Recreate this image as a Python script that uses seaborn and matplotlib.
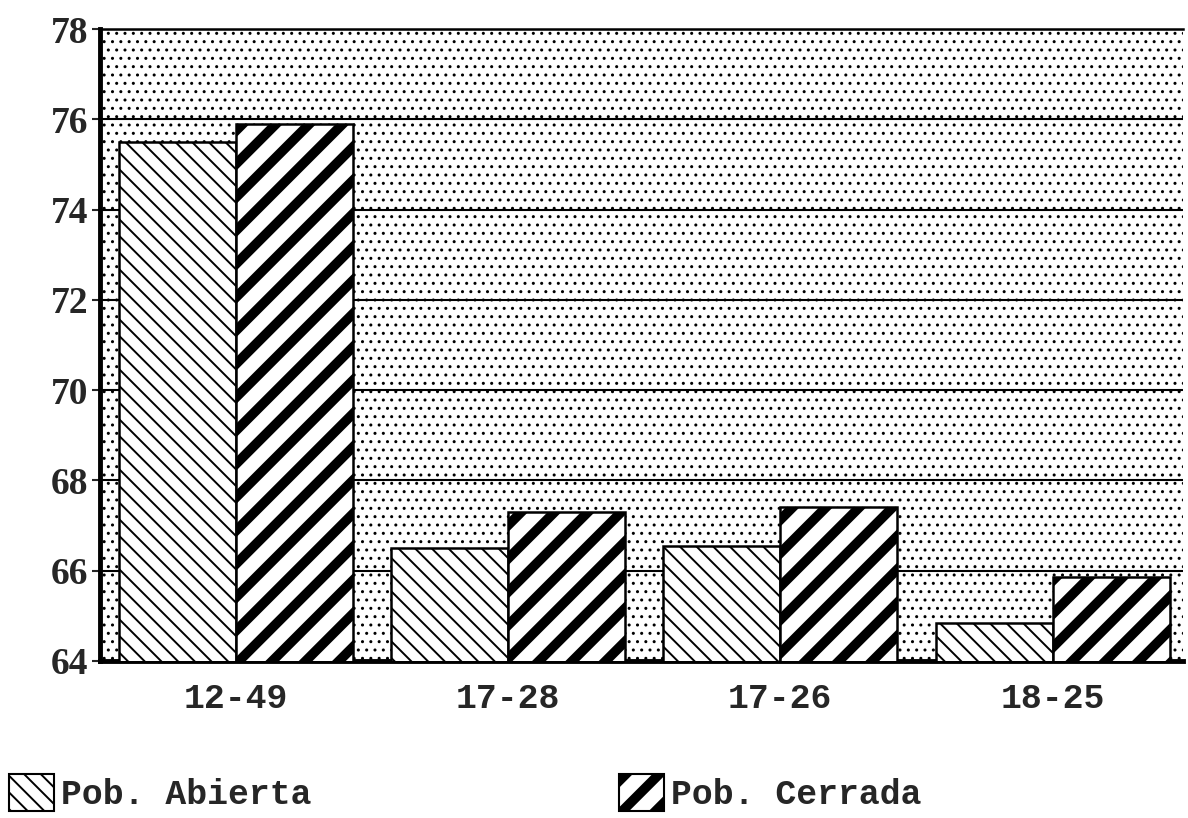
"""Bar chart: Pob. Abierta vs Pob. Cerrada by age range."""
import matplotlib
matplotlib.use("Agg")
import matplotlib.pyplot as plt
from matplotlib.patches import Patch
import seaborn as sns
import pandas as pd

# data
rangos = ["12-49", "17-28", "17-26", "18-25"]
pob_abierta = [75.5, 66.5, 66.55, 64.85]
pob_cerrada = [75.9, 67.3, 67.4, 65.85]
series = ["Pob. Abierta", "Pob. Cerrada"]
y_ticks = [64, 66, 68, 70, 72, 74, 76, 78]

df = pd.DataFrame({
    "rango": rangos * 2,
    "valor": pob_abierta + pob_cerrada,
    "serie": [series[0]] * len(rangos) + [series[1]] * len(rangos),
})

sns.set_style("white")
plt.rcParams["hatch.color"] = "black"

fig = plt.figure(figsize=(11.88, 8.18), dpi=100)
ax = fig.add_axes([0.084, 0.192, 0.912, 0.7725])

# dotted background
ax.patch.set_facecolor("white")
ax.patch.set_edgecolor("black")
ax.patch.set_linewidth(0)
ax.patch.set_hatch("..")

sns.barplot(data=df, x="rango", y="valor", hue="serie", hue_order=series,
            order=rangos, width=0.86, gap=0, ax=ax, legend=False,
            edgecolor="black", linewidth=1.8, saturation=1)

styles = [("\\\\", 1.4), ("/", 7.0)]
for cont, (hatch, hlw) in zip(ax.containers, styles):
    for bar in cont:
        bar.set_facecolor("white")
        bar.set_edgecolor("black")
        bar.set_hatch(hatch)
        if hasattr(bar, "set_hatch_linewidth"):
            bar.set_hatch_linewidth(hlw)
        bar.set_zorder(3)

ax.set_ylim(64, 78)
ax.set_xlim(-0.5, 3.48)
ax.set_yticks(y_ticks)
ax.yaxis.grid(True, color="black", linewidth=1.5)
ax.xaxis.grid(False)
ax.set_axisbelow(True)
ax.set_xlabel("")
ax.set_ylabel("")

for side in ["left", "bottom"]:
    ax.spines[side].set_linewidth(3.5)
    ax.spines[side].set_color("black")
ax.spines["top"].set_linewidth(1.8)
ax.spines["top"].set_color("black")
ax.spines["right"].set_visible(False)

ax.tick_params(axis="y", left=True, length=6, width=1.5, pad=2)
ax.tick_params(axis="x", bottom=False, pad=12)
for lab in ax.get_yticklabels():
    lab.set_fontfamily("Liberation Serif")
    lab.set_fontweight("bold")
    lab.set_fontsize(27)
for lab in ax.get_xticklabels():
    lab.set_fontfamily("Liberation Mono")
    lab.set_fontweight("bold")
    lab.set_fontsize(25)

# legend at the bottom
handles = [Patch(facecolor="white", edgecolor="black", hatch=h, linewidth=1.5)
           for h, _ in styles]
leg = fig.legend(handles, series, loc="center left", bbox_to_anchor=(0.0, 0.031),
                 ncol=2, frameon=False, handlelength=1.3, handleheight=1.25,
                 handletextpad=0.2, columnspacing=8.85, borderaxespad=0,
                 borderpad=0.25,
                 prop={"family": "Liberation Mono", "weight": "bold", "size": 25})
for h, (_, hlw) in zip(leg.legend_handles, styles):
    if hasattr(h, "set_hatch_linewidth"):
        h.set_hatch_linewidth(hlw)

fig.savefig("out.png", dpi=100)
